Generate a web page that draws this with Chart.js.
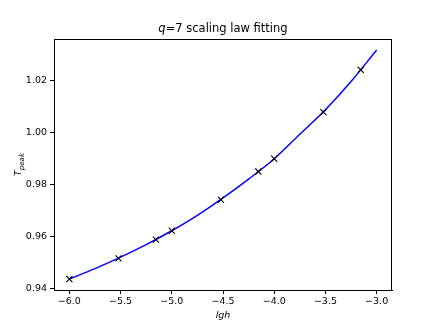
<!DOCTYPE html>
<html>
<head>
<meta charset="utf-8">
<script src="https://cdn.jsdelivr.net/npm/chart.js@4"></script>
<style>
  html, body { margin: 0; padding: 0; background: #fff; }
  #chart { display: block; }
</style>
</head>
<body>
<canvas id="chart" width="436" height="327"></canvas>
<script>
// measured points (lgh, T_peak)
const lghPoints = [-6.0, -5.52, -5.155, -5.0, -4.52, -4.155, -4.0, -3.52, -3.155];
const tPeakPoints = [0.9438, 0.9517, 0.9589, 0.9623, 0.9742, 0.9850, 0.9899, 1.0078, 1.0240];

// fitted curve
const fitLgh = [-6.0, -5.75, -5.5, -5.25, -5.0, -4.75, -4.5, -4.25, -4.0, -3.75, -3.5, -3.25, -3.0];
const fitT = [0.9438, 0.9478, 0.9522, 0.9570, 0.9623, 0.9682, 0.9749, 0.9821, 0.9899, 0.9993, 1.0087, 1.0195, 1.0316];

const xTicks = [-6.0, -5.5, -5.0, -4.5, -4.0, -3.5, -3.0];
const yTicks = [0.94, 0.96, 0.98, 1.00, 1.02];

const FONT = 'DejaVu Sans';

const toXY = (xs, ys) => xs.map((x, i) => ({ x: x, y: ys[i] }));
const minus = v => v.replace('-', '\u2212');

// top/right spines, title and y label (mixed italic text)
const extras = {
  id: 'extras',
  afterDraw(chart) {
    const { ctx, chartArea: a } = chart;
    ctx.save();
    ctx.strokeStyle = '#000';
    ctx.lineWidth = 1;
    ctx.strokeRect(a.left + 0.5, a.top + 0.5, a.right - a.left - 1, a.bottom - a.top);

    // title: "q=7 scaling law fitting" with italic q
    ctx.fillStyle = '#000';
    ctx.textBaseline = 'alphabetic';
    const cx = (a.left + a.right) / 2;
    ctx.font = 'italic 11.5px ' + FONT;
    const wq = ctx.measureText('q').width;
    ctx.font = '11.5px ' + FONT;
    const rest = '=7 scaling law fitting';
    const wr = ctx.measureText(rest).width;
    let x0 = cx - (wq + wr) / 2;
    ctx.font = 'italic 11.5px ' + FONT;
    ctx.fillText('q', x0, 32);
    ctx.font = '11.5px ' + FONT;
    ctx.fillText(rest, x0 + wq, 32);

    // y label: T_peak
    ctx.translate(18, (a.top + a.bottom) / 2);
    ctx.rotate(-Math.PI / 2);
    ctx.font = 'italic 9.5px ' + FONT;
    const wt = ctx.measureText('T').width;
    ctx.font = 'italic 7px ' + FONT;
    const wp = ctx.measureText('peak').width;
    const sx = -(wt + wp) / 2;
    ctx.font = 'italic 9.5px ' + FONT;
    ctx.fillText('T', sx, 3);
    ctx.font = 'italic 7px ' + FONT;
    ctx.fillText('peak', sx + wt, 5.5);
    ctx.restore();
  }
};

new Chart(document.getElementById('chart'), {
  type: 'scatter',
  data: {
    datasets: [
      {
        label: 'data',
        data: toXY(lghPoints, tPeakPoints),
        pointStyle: 'crossRot',
        pointRadius: 4.3,
        pointBorderColor: '#000',
        pointBorderWidth: 1.1,
        showLine: false,
        order: 0,
      },
      {
        label: 'fit',
        data: toXY(fitLgh, fitT),
        showLine: true,
        borderColor: '#0000ff',
        borderWidth: 1.5,
        pointRadius: 0,
        cubicInterpolationMode: 'monotone',
        order: 1,
      },
    ],
  },
  options: {
    responsive: false,
    animation: false,
    events: [],
    layout: { padding: { top: 39, right: 44, left: 0, bottom: 0 } },
    plugins: {
      legend: { display: false },
      title: { display: false },
      tooltip: { enabled: false },
    },
    scales: {
      x: {
        type: 'linear',
        min: -6.15,
        max: -2.85,
        afterBuildTicks: s => { s.ticks = xTicks.map(v => ({ value: v })); },
        afterFit: s => { s.height = 37; },
        grid: { display: true, drawOnChartArea: false, drawTicks: true, tickLength: 4, color: '#000' },
        border: { display: true, color: '#000', width: 1 },
        ticks: {
          color: '#000',
          padding: 2,
          maxRotation: 0,
          font: { family: FONT, size: 9.5 },
          callback: v => minus(v.toFixed(1)),
        },
        title: {
          display: true,
          text: 'lgh',
          color: '#000',
          font: { family: FONT, size: 9.5, style: 'italic' },
          padding: { top: 0, bottom: 6 },
        },
      },
      y: {
        type: 'linear',
        min: 0.9396,
        max: 1.0358,
        afterBuildTicks: s => { s.ticks = yTicks.map(v => ({ value: v })); },
        afterFit: s => { s.width = 54; },
        grid: { display: true, drawOnChartArea: false, drawTicks: true, tickLength: 4, color: '#000' },
        border: { display: true, color: '#000', width: 1 },
        ticks: {
          color: '#000',
          padding: 3,
          font: { family: FONT, size: 9.5 },
          callback: v => v.toFixed(2),
        },
      },
    },
  },
  plugins: [extras],
});
</script>
</body>
</html>
